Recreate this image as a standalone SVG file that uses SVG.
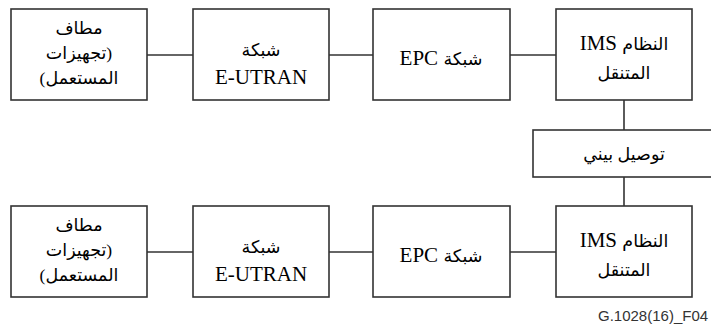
<svg xmlns="http://www.w3.org/2000/svg" width="711" height="325" viewBox="0 0 711 325">
<style>
.box{fill:#fff;stroke:#333;stroke-width:1.6}
.ln{stroke:#333;stroke-width:1.6;fill:none}
.t{font-family:"Liberation Serif","DejaVu Sans",serif;font-size:21px;fill:#000;text-anchor:middle;direction:rtl;unicode-bidi:embed}
.ar{font-size:17.5px}
.f{font-family:"Liberation Sans",Arial,sans-serif;font-size:15px;fill:#333}
</style>
<rect width="711" height="325" fill="#fff"/>
<g id="connectors">
<line class="ln" x1="147" y1="55" x2="193" y2="55"/>
<line class="ln" x1="329" y1="55" x2="373" y2="55"/>
<line class="ln" x1="510" y1="55" x2="556" y2="55"/>
<line class="ln" x1="147" y1="252" x2="193" y2="252"/>
<line class="ln" x1="329" y1="252" x2="373" y2="252"/>
<line class="ln" x1="510" y1="252" x2="556" y2="252"/>
<line class="ln" x1="624" y1="100" x2="624" y2="130"/>
<line class="ln" x1="624" y1="177" x2="624" y2="206"/>
</g>
<g id="ue1">
<rect class="box" x="11" y="9" width="136" height="91"/>
<text class="t ar" x="79" y="34">مطاف</text>
<text class="t ar" x="79" y="59">(تجهيزات</text>
<text class="t ar" x="79" y="84">المستعمل)</text>
</g>
<g id="eutran1">
<rect class="box" x="193" y="9" width="136" height="91"/>
<text class="t ar" x="261" y="56">شبكة</text>
<text class="t" x="261" y="84">E-UTRAN</text>
</g>
<g id="epc1">
<rect class="box" x="373" y="9" width="137" height="91"/>
<text class="t" x="441" y="65"><tspan class="ar">شبكة</tspan> EPC</text>
</g>
<g id="ims1">
<rect class="box" x="556" y="9" width="136" height="91"/>
<text class="t" x="624" y="50"><tspan class="ar">النظام</tspan> IMS</text>
<text class="t ar" x="624" y="79">المتنقل</text>
</g>
<g id="interconnect">
<rect class="box" x="533" y="130" width="182" height="47"/>
<text class="t ar" x="624" y="160">توصيل بيني</text>
</g>
<g id="ue2">
<rect class="box" x="11" y="206" width="136" height="91"/>
<text class="t ar" x="79" y="231">مطاف</text>
<text class="t ar" x="79" y="256">(تجهيزات</text>
<text class="t ar" x="79" y="281">المستعمل)</text>
</g>
<g id="eutran2">
<rect class="box" x="193" y="206" width="136" height="91"/>
<text class="t ar" x="261" y="253">شبكة</text>
<text class="t" x="261" y="281">E-UTRAN</text>
</g>
<g id="epc2">
<rect class="box" x="373" y="206" width="137" height="91"/>
<text class="t" x="441" y="262"><tspan class="ar">شبكة</tspan> EPC</text>
</g>
<g id="ims2">
<rect class="box" x="556" y="206" width="136" height="91"/>
<text class="t" x="624" y="247"><tspan class="ar">النظام</tspan> IMS</text>
<text class="t ar" x="624" y="276">المتنقل</text>
</g>
<text class="f" x="598" y="321">G.1028(16)_F04</text>
</svg>
